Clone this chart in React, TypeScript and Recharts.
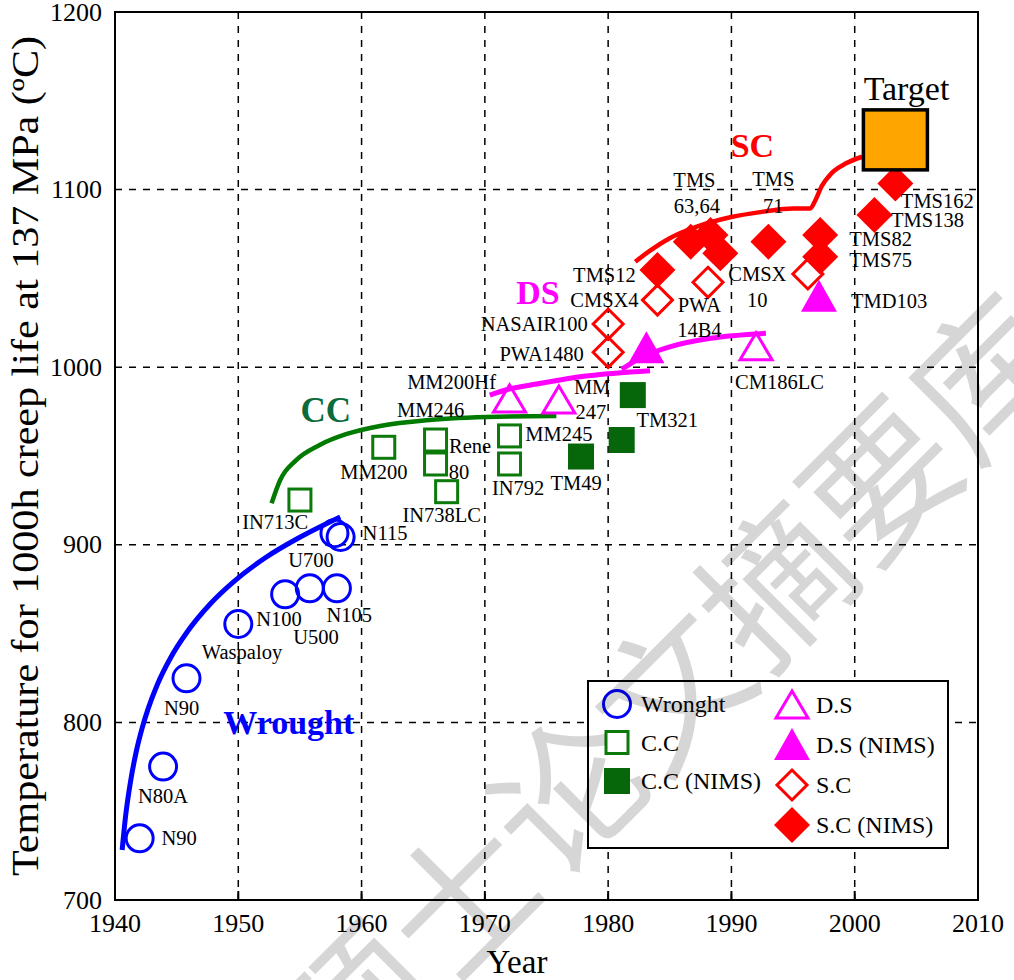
import React from "react";
import { CartesianGrid, ComposedChart, Legend, Line, ReferenceArea, Scatter, XAxis, YAxis } from "recharts";

const FONT = "Liberation Serif, Tinos, Times New Roman, serif";

const yearTicks = [1940, 1950, 1960, 1970, 1980, 1990, 2000, 2010];
const tempTicks = [700, 800, 900, 1000, 1100, 1200];

// alloys: year vs temperature for 1000h creep life at 137 MPa
const wroughtPts = [
  { x: 1942.0, y: 734.7 },
  { x: 1943.9, y: 775.1 },
  { x: 1945.8, y: 824.8 },
  { x: 1950.0, y: 855.4 },
  { x: 1953.8, y: 872.1 },
  { x: 1955.8, y: 875.5 },
  { x: 1958.0, y: 875.5 },
  { x: 1957.8, y: 906.5 },
  { x: 1958.3, y: 904.4 },
];
const ccPts = [
  { x: 1955.0, y: 925.2 },
  { x: 1961.8, y: 954.9 },
  { x: 1966.0, y: 959.0 },
  { x: 1966.0, y: 945.5 },
  { x: 1966.9, y: 929.9 },
  { x: 1972.0, y: 961.3 },
  { x: 1972.0, y: 945.5 },
];
const ccNimsPts = [
  { x: 1977.8, y: 949.7 },
  { x: 1981.1, y: 959.0 },
  { x: 1982.0, y: 984.3 },
];
const dsPts = [
  { x: 1972.0, y: 982.1 },
  { x: 1976.0, y: 981.5 },
  { x: 1992.0, y: 1011.5 },
];
const dsNimsPts = [
  { x: 1983.1, y: 1010.6 },
  { x: 1997.1, y: 1039.7 },
];
const scPts = [
  { x: 1980.0, y: 1024.3 },
  { x: 1980.0, y: 1008.4 },
  { x: 1984.0, y: 1037.8 },
  { x: 1988.1, y: 1047.8 },
  { x: 1996.2, y: 1052.5 },
];
const scNimsPts = [
  { x: 1984.0, y: 1054.7 },
  { x: 1986.7, y: 1070.7 },
  { x: 1988.3, y: 1074.4 },
  { x: 1989.1, y: 1064.1 },
  { x: 1993.0, y: 1070.7 },
  { x: 1997.2, y: 1074.4 },
  { x: 1997.2, y: 1062.2 },
  { x: 2001.6, y: 1085.7 },
  { x: 2003.3, y: 1103.5 },
];
const targetPt = [{ x: 2003.3, y: 1128 }];

// hand-drawn trend curves
const wroughtCurve = [
  { x: 1940.58, y: 728.2 },
  { x: 1940.85, y: 746.7 },
  { x: 1941.26, y: 766.7 },
  { x: 1941.74, y: 784.1 },
  { x: 1942.2, y: 796.8 },
  { x: 1942.71, y: 808.2 },
  { x: 1943.42, y: 821.1 },
  { x: 1944.5, y: 836.3 },
  { x: 1945.85, y: 850.9 },
  { x: 1947.74, y: 866.8 },
  { x: 1949.61, y: 879.1 },
  { x: 1952.19, y: 892.7 },
  { x: 1955.03, y: 904.4 },
  { x: 1958.27, y: 915.7 },
];
const ccCurve = [
  { x: 1952.7, y: 923.4 },
  { x: 1953.4, y: 936.5 },
  { x: 1954.7, y: 947.7 },
  { x: 1956.6, y: 956.2 },
  { x: 1958.8, y: 962.4 },
  { x: 1961.5, y: 966.9 },
  { x: 1965.5, y: 970.3 },
  { x: 1971.0, y: 972.1 },
  { x: 1975.8, y: 972.5 },
];
const dsCurveA = [
  { x: 1970.4, y: 984.3 },
  { x: 1971.9, y: 987.6 },
  { x: 1974.2, y: 990.5 },
  { x: 1978.2, y: 995.0 },
  { x: 1983.4, y: 998.0 },
];
const dsCurveB = [
  { x: 1981.1, y: 998.8 },
  { x: 1982.8, y: 1005.9 },
  { x: 1985.0, y: 1011.5 },
  { x: 1988.3, y: 1016.3 },
  { x: 1992.8, y: 1019.1 },
];
const scCurve = [
  { x: 1982.2, y: 1059.4 },
  { x: 1983.4, y: 1065.6 },
  { x: 1985.0, y: 1072.6 },
  { x: 1987.2, y: 1079.1 },
  { x: 1989.9, y: 1084.4 },
  { x: 1992.6, y: 1087.6 },
  { x: 1995.0, y: 1089.4 },
  { x: 1996.4, y: 1089.4 },
  { x: 1996.8, y: 1093.9 },
  { x: 1997.3, y: 1101.6 },
  { x: 1998.1, y: 1109.1 },
  { x: 1999.3, y: 1114.8 },
  { x: 2000.6, y: 1118.5 },
];

// alloy name labels
const alloyLabels = [
  { x: 1945.2, y: 734.9, text: "N90" },
  { x: 1943.9, y: 758.6, text: "N80A" },
  { x: 1945.4, y: 808.1, text: "N90" },
  { x: 1950.3, y: 839.6, text: "Waspaloy" },
  { x: 1953.3, y: 858.2, text: "N100" },
  { x: 1956.3, y: 848.1, text: "U500" },
  { x: 1959.0, y: 860.5, text: "N105" },
  { x: 1955.9, y: 891.4, text: "U700" },
  { x: 1961.9, y: 906.6, text: "N115" },
  { x: 1953.0, y: 912.8, text: "IN713C" },
  { x: 1961.0, y: 941.0, text: "MM200" },
  { x: 1965.6, y: 975.9, text: "MM246" },
  { x: 1968.8, y: 955.6, text: "Rene" },
  { x: 1967.9, y: 941.0, text: "80" },
  { x: 1966.5, y: 916.8, text: "IN738LC" },
  { x: 1976.0, y: 962.4, text: "MM245" },
  { x: 1972.7, y: 932.0, text: "IN792" },
  { x: 1977.4, y: 934.8, text: "TM49" },
  { x: 1967.3, y: 991.7, text: "MM200Hf" },
  { x: 1978.7, y: 988.9, text: "MM" },
  { x: 1978.6, y: 974.8, text: "247" },
  { x: 1984.8, y: 970.3, text: "TM321" },
  { x: 1979.7, y: 1051.9, text: "TMS12" },
  { x: 1979.7, y: 1037.8, text: "CMSX4" },
  { x: 1974.0, y: 1024.3, text: "NASAIR100" },
  { x: 1974.6, y: 1007.4, text: "PWA1480" },
  { x: 1987.4, y: 1035.0, text: "PWA" },
  { x: 1987.4, y: 1020.9, text: "14B4" },
  { x: 1987.0, y: 1105.4, text: "TMS" },
  { x: 1987.2, y: 1090.8, text: "63,64" },
  { x: 1993.4, y: 1105.9, text: "TMS" },
  { x: 1993.4, y: 1090.8, text: "71" },
  { x: 1992.1, y: 1052.5, text: "CMSX" },
  { x: 1992.1, y: 1037.8, text: "10" },
  { x: 2006.7, y: 1093.5, text: "TMS162" },
  { x: 2005.9, y: 1082.8, text: "TMS138" },
  { x: 2002.1, y: 1072.1, text: "TMS82" },
  { x: 2002.1, y: 1060.2, text: "TMS75" },
  { x: 2002.8, y: 1037.2, text: "TMD103" },
  { x: 1993.9, y: 991.7, text: "CM186LC" },
];
const targetLabel = [{ x: 2004.2, y: 1157.2, text: "Target" }];
const wroughtTitle = [{ x: 1954.1, y: 799.7, text: "Wrought" }];
const ccTitle = [{ x: 1957.1, y: 975.9, text: "CC" }];
const dsTitle = [{ x: 1974.3, y: 1042.3, text: "DS" }];
const scTitle = [{ x: 1991.7, y: 1124.6, text: "SC" }];

const BLUE = "#0000ff";
const GREEN = "#0b7a0b";
const DKGREEN = "#06660a";
const MAGENTA = "#ff00ff";
const RED = "#ff0000";

const openCircle = (p: any) => <circle cx={p.cx} cy={p.cy} r={13.5} fill="none" stroke={BLUE} strokeWidth={3} />;
const openSquare = (p: any) => <rect x={p.cx - 11} y={p.cy - 11} width={22} height={22} fill="none" stroke={GREEN} strokeWidth={3} />;
const fullSquare = (p: any) => <rect x={p.cx - 13} y={p.cy - 13} width={26} height={26} fill={DKGREEN} />;
const openTri = (p: any) => (
  <polygon points={`${p.cx},${p.cy - 14} ${p.cx - 16},${p.cy + 13} ${p.cx + 16},${p.cy + 13}`} fill="none" stroke={MAGENTA} strokeWidth={3} />
);
const fullTri = (p: any) => <polygon points={`${p.cx},${p.cy - 17} ${p.cx - 18},${p.cy + 15} ${p.cx + 18},${p.cy + 15}`} fill={MAGENTA} />;
const openDiamond = (p: any) => (
  <polygon points={`${p.cx},${p.cy - 15} ${p.cx + 15},${p.cy} ${p.cx},${p.cy + 15} ${p.cx - 15},${p.cy}`} fill="none" stroke={RED} strokeWidth={3} />
);
const fullDiamond = (p: any) => <polygon points={`${p.cx},${p.cy - 18} ${p.cx + 18},${p.cy} ${p.cx},${p.cy + 18} ${p.cx - 18},${p.cy}`} fill={RED} />;
const targetBox = (p: any) => <rect x={p.cx - 32} y={p.cy - 30} width={64} height={60} fill="#ffa500" stroke="#000" strokeWidth={3.5} />;

const textShape = (size: number, color: string, bold = false) => (p: any) => (
  <text x={p.cx} y={p.cy} textAnchor="middle" dominantBaseline="central" fontFamily={FONT} fontSize={size} fill={color} fontWeight={bold ? "bold" : "normal"}>
    {p.payload.text}
  </text>
);

const XTick = (p: any) => {
  const v = p.payload.value;
  const inner = v !== 1940 && v !== 2010;
  return (
    <g>
      {inner && <line x1={p.x} x2={p.x} y1={p.y} y2={p.y - 9} stroke="#000" strokeWidth={2} />}
      <text x={p.x} y={p.y + 32} textAnchor="middle" fontFamily={FONT} fontSize={26} fill="#000">
        {v}
      </text>
    </g>
  );
};

const YTick = (p: any) => (
  <text x={p.x - 13} y={p.y} textAnchor="end" dominantBaseline="central" fontFamily={FONT} fontSize={26} fill="#000">
    {p.payload.value}
  </text>
);

const legendRows = [
  { col: 0, row: 0, name: "Wronght", shape: openCircle },
  { col: 0, row: 1, name: "C.C", shape: openSquare },
  { col: 0, row: 2, name: "C.C (NIMS)", shape: fullSquare },
  { col: 1, row: 0, name: "D.S", shape: openTri },
  { col: 1, row: 1, name: "D.S (NIMS)", shape: fullTri },
  { col: 1, row: 2, name: "S.C", shape: openDiamond },
  { col: 1, row: 3, name: "S.C (NIMS)", shape: fullDiamond },
];

const LegendBox = () => (
  <svg width={362} height={170} style={{ display: "block" }}>
    <rect x={1} y={1} width={360} height={167} fill="#fff" stroke="#000" strokeWidth={2} />
    {legendRows.map((r) => {
      const cx = r.col === 0 ? 30 : 205;
      const cy = r.col === 0 ? 24 + r.row * 38.5 : 25 + r.row * 40;
      return (
        <g key={r.name}>
          {r.shape({ cx, cy })}
          <text x={cx + 24} y={cy} dominantBaseline="central" fontFamily={FONT} fontSize={24} fill="#000">
            {r.name}
          </text>
        </g>
      );
    })}
  </svg>
);

const curveLine = (data: any[], color: string, width: number, key: string) => (
  <Line
    key={key}
    data={data}
    dataKey="y"
    type="monotone"
    stroke={color}
    strokeWidth={width}
    dot={false}
    activeDot={false}
    legendType="none"
    isAnimationActive={false}
  />
);

export default function App() {
  return (
    <div style={{ position: "absolute", left: 0, top: 0, width: 1014, height: 980, background: "#fff", overflow: "hidden" }}>
      <ComposedChart width={1014} height={980} margin={{ top: 12, right: 36, bottom: 0, left: 0 }}>
        <CartesianGrid stroke="#000" strokeWidth={1.5} strokeDasharray="7 7" />
        <XAxis
          type="number"
          dataKey="x"
          domain={[1940, 2010]}
          ticks={yearTicks}
          allowDataOverflow
          height={80}
          tickSize={0}
          tickMargin={0}
          tickLine={false}
          axisLine={{ stroke: "#000", strokeWidth: 2 }}
          tick={XTick}
          label={{
            content: () => (
              <text x={517} y={973} textAnchor="middle" fontFamily={FONT} fontSize={33} fill="#000">
                Year
              </text>
            ),
          }}
        />
        <YAxis
          type="number"
          dataKey="y"
          domain={[700, 1200]}
          ticks={tempTicks}
          allowDataOverflow
          width={115}
          tickSize={0}
          tickMargin={0}
          tickLine={false}
          axisLine={{ stroke: "#000", strokeWidth: 2 }}
          tick={YTick}
          label={{
            content: () => (
              <text
                transform="translate(38,456) rotate(-90)"
                textAnchor="middle"
                fontFamily={FONT}
                fontSize={37}
                fill="#000"
                textLength={840}
                lengthAdjust="spacingAndGlyphs"
              >
                Temperature for 1000h creep life at 137 MPa (ºC)
              </text>
            ),
          }}
        />
        <ReferenceArea x1={1940} x2={2010} y1={700} y2={1200} fill="none" stroke="#000" strokeWidth={2} />

        {curveLine(wroughtCurve, BLUE, 5, "wc")}
        {curveLine(ccCurve, "#007a00", 4.5, "cc")}
        {curveLine(dsCurveA, MAGENTA, 5, "dsa")}
        {curveLine(dsCurveB, MAGENTA, 5, "dsb")}
        {curveLine(scCurve, RED, 4.5, "sc")}

        <Scatter name="Wronght" data={wroughtPts} shape={openCircle} isAnimationActive={false} />
        <Scatter name="C.C" data={ccPts} shape={openSquare} isAnimationActive={false} />
        <Scatter name="C.C (NIMS)" data={ccNimsPts} shape={fullSquare} isAnimationActive={false} />
        <Scatter name="D.S" data={dsPts} shape={openTri} isAnimationActive={false} />
        <Scatter name="D.S (NIMS)" data={dsNimsPts} shape={fullTri} isAnimationActive={false} />
        <Scatter name="S.C" data={scPts} shape={openDiamond} isAnimationActive={false} />
        <Scatter name="S.C (NIMS)" data={scNimsPts} shape={fullDiamond} isAnimationActive={false} />
        <Scatter data={targetPt} shape={targetBox} legendType="none" isAnimationActive={false} />

        <Scatter data={alloyLabels} shape={textShape(20.5, "#000")} legendType="none" isAnimationActive={false} />
        <Scatter data={targetLabel} shape={textShape(34, "#000")} legendType="none" isAnimationActive={false} />
        <Scatter data={wroughtTitle} shape={textShape(34, BLUE, true)} legendType="none" isAnimationActive={false} />
        <Scatter data={ccTitle} shape={textShape(35, "#0b6b3b", true)} legendType="none" isAnimationActive={false} />
        <Scatter data={dsTitle} shape={textShape(34, MAGENTA, true)} legendType="none" isAnimationActive={false} />
        <Scatter data={scTitle} shape={textShape(34, RED, true)} legendType="none" isAnimationActive={false} />

        <Legend
          layout="horizontal"
          verticalAlign="middle"
          align="center"
          content={LegendBox}
          wrapperStyle={{ position: "absolute", left: 587, top: 680, width: 362, height: 170 }}
        />
      </ComposedChart>
      <div
        style={{
          position: "absolute",
          left: 666,
          top: 684,
          transform: "translate(-50%, -50%) rotate(-45deg)",
          fontFamily: '"Noto Sans CJK SC"',
          fontSize: 148,
          lineHeight: 1,
          whiteSpace: "nowrap",
          color: "rgba(0,0,0,0.16)",
          pointerEvents: "none",
        }}
      >
        硕士论文摘要库
      </div>
    </div>
  );
}
